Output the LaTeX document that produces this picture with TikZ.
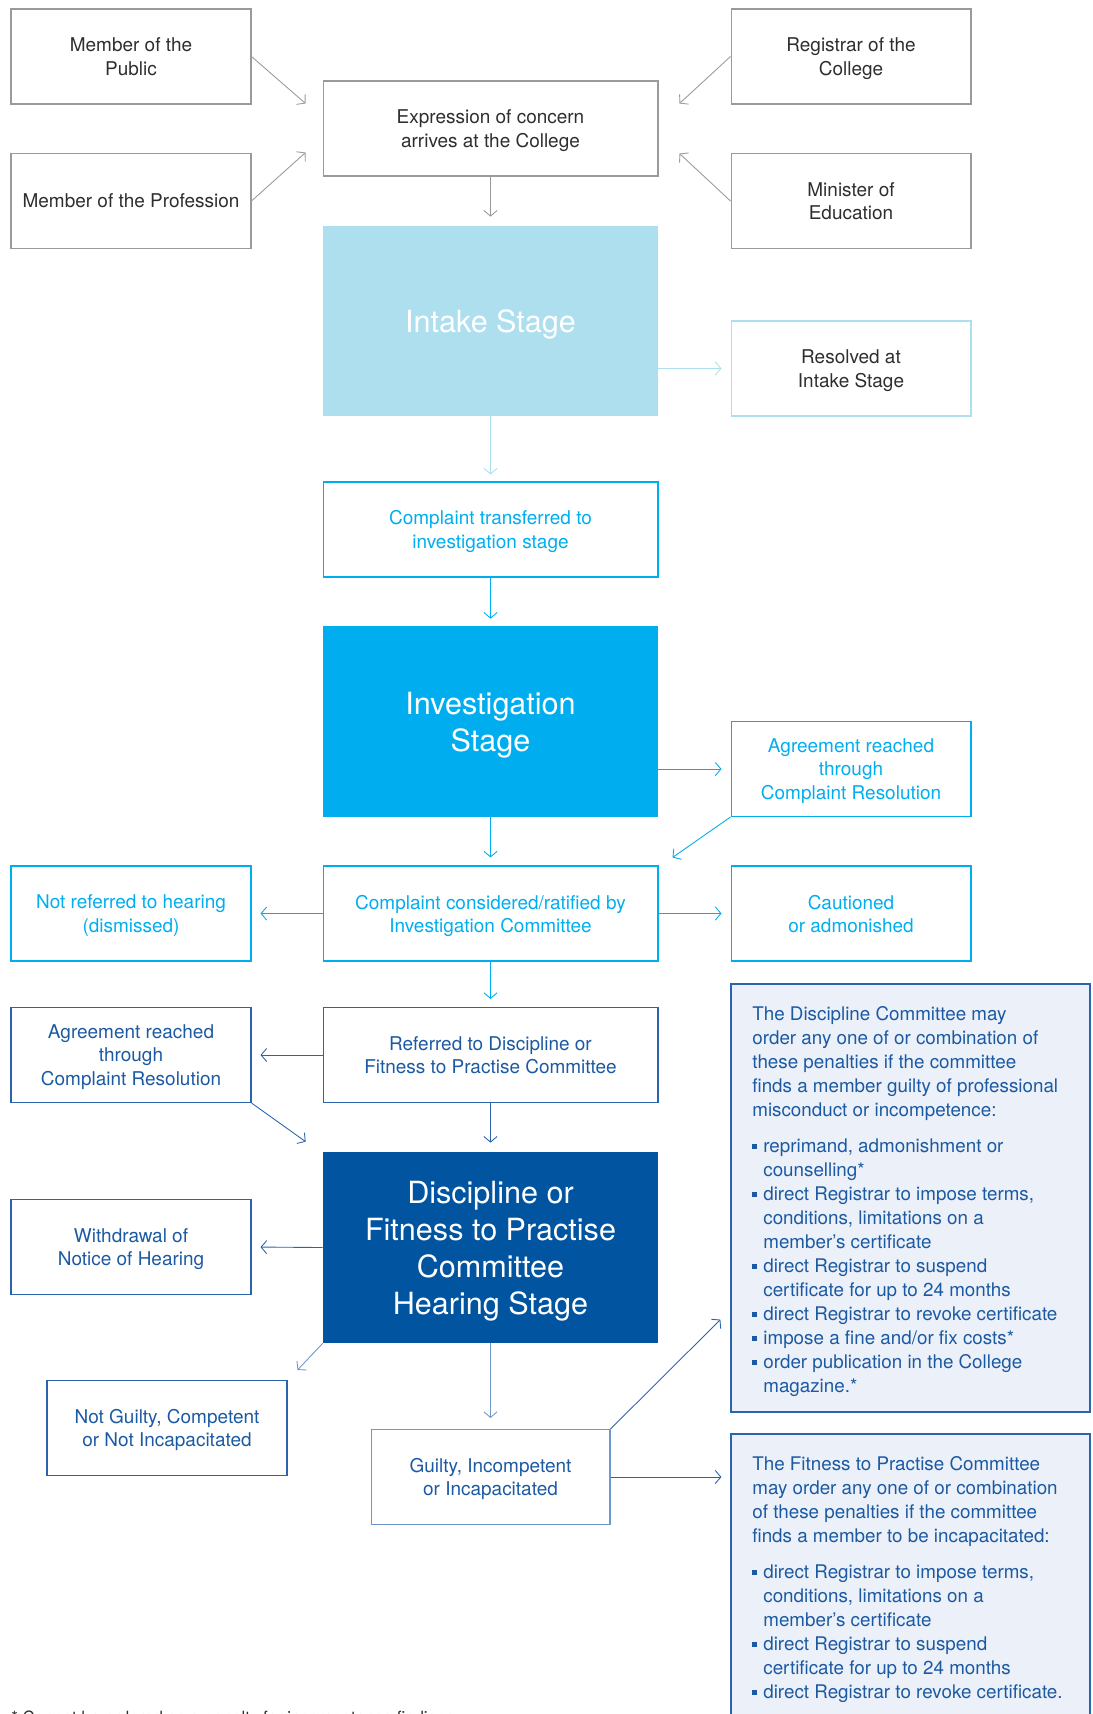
\documentclass[tikz,border=0pt]{standalone}
\usepackage{fontspec}
\setmainfont{TeX Gyre Heros}
\usetikzlibrary{arrows.meta,calc,positioning}

\definecolor{boxgray}{HTML}{9A9A9A}
\definecolor{textgray}{HTML}{2E2E2E}
\definecolor{intakeblue}{HTML}{ADDFEF}
\definecolor{investblue}{HTML}{00AEEF}
\definecolor{hearblue}{HTML}{0054A0}
\definecolor{navytext}{HTML}{1B5AA3}
\definecolor{navyline}{HTML}{2A64AC}
\definecolor{steelblue}{HTML}{6E98C9}
\definecolor{panelfill}{HTML}{ECF0F8}

\newcommand{\pbullet}{\makebox[0.22cm][l]{\rule[0.2em]{0.26em}{0.26em}}}
\newcommand{\bulind}{\hspace*{0.22cm}}

\tikzset{
  box/.style={rectangle, draw, line width=0.6pt, minimum width=4.8cm, minimum height=1.9cm,
    inner sep=0pt, align=center, text depth=0pt, font=\fontsize{10.8pt}{13.2pt}\selectfont},
  wide/.style={minimum width=6.7cm},
  graybox/.style={box, draw=boxgray, text=textgray},
  palebox/.style={box, draw=intakeblue, text=textgray},
  cyanbox/.style={box, draw=investblue, text=investblue},
  navybox/.style={box, draw=navyline, text=navytext},
  steelbox/.style={box, draw=steelblue, text=navytext},
  stagebox/.style={rectangle, minimum width=6.7cm, minimum height=3.8cm, inner sep=0pt,
    text=white, align=center, text depth=-2.5pt, font=\fontsize{17.4pt}{21pt}\selectfont},
  panel/.style={rectangle, draw=navyline, fill=panelfill, line width=0.7pt,
    minimum width=7.18cm, inner sep=0pt},
  paneltext/.style={anchor=north west, inner sep=0pt, align=left, text=navytext,
    font=\fontsize{10.7pt}{13.65pt}\selectfont},
  arr/.style={-{Straight Barb[length=3.2pt,width=7.5pt]}, line width=0.5pt},
  gap/.style={shorten >=0.18cm},
}

\begin{document}
\begin{tikzpicture}[x=0.02cm, y=-0.02cm]
  \useasboundingbox (0,0) rectangle (1092,1714);

  % Draw the boxes where a concern comes from
  \node[graybox] (public) at (131,56.5) {Member of the\\Public};
  \node[graybox] (profession) at (131,201) {Member of the Profession};
  \node[graybox, wide] (concern) at (490.5,128.5) {Expression of concern\\arrives at the College};
  \node[graybox] (registrar) at (851,56.5) {Registrar of the\\College};
  \node[graybox] (minister) at (851,201) {Minister of\\Education};

  \draw[arr, boxgray] (public.east) -- ($(concern.north west)+(-17,23)$);
  \draw[arr, boxgray] (profession.east) -- ($(concern.south west)+(-17,-24)$);
  \draw[arr, boxgray] (registrar.west) -- ($(concern.north east)+(21,23)$);
  \draw[arr, boxgray] (minister.west) -- ($(concern.south east)+(21,-23)$);

  % Draw the intake stage
  \node[stagebox, fill=intakeblue] (intake) at (490.5,321) {Intake Stage};
  \node[palebox] (resolved) at (851,368.5) {Resolved at\\Intake Stage};
  \node[cyanbox, wide] (transfer) at (490.5,529.5) {Complaint transferred to\\investigation stage};

  \draw[arr, gap, boxgray] (concern.south) -- (intake.north);
  \draw[arr, gap, intakeblue] (intake.east |- resolved.west) -- (resolved.west);
  \draw[arr, intakeblue, shorten >=0.14cm] (intake.south) -- (transfer.north);

  % Draw the investigation stage
  \node[stagebox, fill=investblue, minimum height=3.82cm] (invest) at (490.5,721.5) {Investigation\\Stage};
  \node[cyanbox] (agreeinv) at (851,769) {Agreement reached\\through\\Complaint Resolution};
  \node[cyanbox, wide] (ratified) at (490.5,913.5) {Complaint considered/ratified by\\Investigation Committee};
  \node[cyanbox] (notref) at (131,913.5) {Not referred to hearing\\(dismissed)};
  \node[cyanbox] (caution) at (851,913.5) {Cautioned\\or admonished};

  \draw[arr, investblue, shorten >=0.14cm] (transfer.south) -- (invest.north);
  \draw[arr, gap, investblue] (invest.east |- agreeinv.west) -- (agreeinv.west);
  \draw[arr, investblue] (agreeinv.south west) -- ($(ratified.north east)+(14,-8)$);
  \draw[arr, investblue, shorten >=0.16cm] (invest.south) -- (ratified.north);
  \draw[arr, gap, investblue] (ratified.west) -- (notref.east);
  \draw[arr, gap, investblue] (ratified.east) -- (caution.west);

  % Draw the hearing stage
  \node[navybox, wide] (referred) at (490.5,1055) {Referred to Discipline or\\Fitness to Practise Committee};
  \node[navybox] (agreehear) at (131,1055) {Agreement reached\\through\\Complaint Resolution};
  \node[stagebox, fill=hearblue, minimum height=3.82cm] (hearing) at (490.5,1247.5)
    {Discipline or\\Fitness to Practise\\Committee\\Hearing Stage};
  \node[navybox] (withdraw) at (131,1247) {Withdrawal of\\Notice of Hearing};
  \node[navybox] (notguilty) at (167,1428) {Not Guilty, Competent\\or Not Incapacitated};
  \node[steelbox, minimum width=4.78cm] (guilty) at (490.5,1477) {Guilty, Incompetent\\or Incapacitated};

  \draw[arr, investblue, shorten >=0.16cm] (ratified.south) -- (referred.north);
  \draw[arr, gap, navyline] (referred.west) -- (agreehear.east);
  \draw[arr, navyline] (agreehear.south east) -- ($(hearing.north west)+(-17,-10)$);
  \draw[arr, gap, navyline] (referred.south) -- (hearing.north);
  \draw[arr, gap, navyline] (hearing.west) -- (withdraw.east);
  \draw[arr, steelblue] (hearing.south west) -- ($(notguilty.north east)+(10,-10)$);
  \draw[arr, steelblue, shorten >=0.22cm] (hearing.south) -- (guilty.north);

  % Draw the penalty panels
  \node[panel, minimum height=8.56cm] (discpen) at (910.5,1198) {};
  \node[panel, minimum height=5.92cm] (fitpen) at (910.5,1582) {};

  \node[paneltext] (disctext) at (752,1006) {The Discipline Committee may\\
    order any one of or combination of\\
    these penalties if the committee\\
    finds a member guilty of professional\\
    misconduct or incompetence:\\[7pt]
    \pbullet reprimand, admonishment or\\
    \bulind counselling*\\
    \pbullet direct Registrar to impose terms,\\
    \bulind conditions, limitations on a\\
    \bulind member’s certificate\\
    \pbullet direct Registrar to suspend\\
    \bulind certificate for up to 24 months\\
    \pbullet direct Registrar to revoke certificate\\
    \pbullet impose a fine and/or fix costs*\\
    \pbullet order publication in the College\\
    \bulind magazine.*};

  \node[paneltext] (fittext) at (752,1456) {The Fitness to Practise Committee\\
    may order any one of or combination\\
    of these penalties if the committee\\
    finds a member to be incapacitated:\\[7pt]
    \pbullet direct Registrar to impose terms,\\
    \bulind conditions, limitations on a\\
    \bulind member’s certificate\\
    \pbullet direct Registrar to suspend\\
    \bulind certificate for up to 24 months\\
    \pbullet direct Registrar to revoke certificate.};

  \draw[arr, navyline] (guilty.north east) -- ($(discpen.south west)+(-10,-93)$);
  \draw[arr, gap, navyline] (guilty.east) -- (fitpen.west |- guilty.east);

  % Footnote
  \node[anchor=north west, inner sep=0pt, text=textgray, font=\fontsize{9.6pt}{11pt}\selectfont]
    (note) at (11,1711) {* Cannot be ordered as a penalty for incompetence findings.};
\end{tikzpicture}
\end{document}
